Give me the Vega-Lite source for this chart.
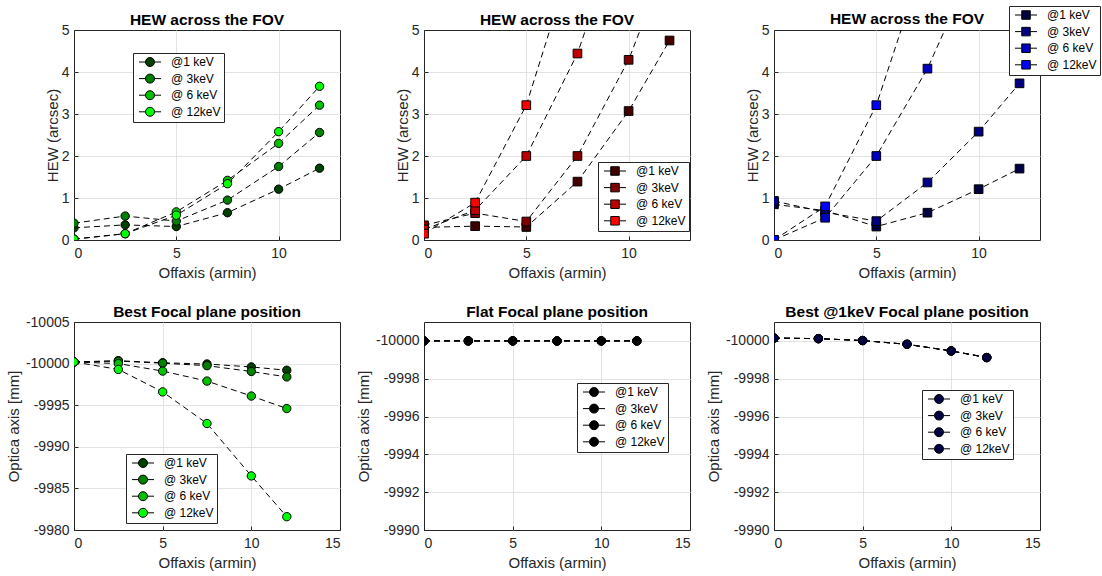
{
  "$schema": "https://vega.github.io/schema/vega-lite/v6.json",
  "padding": {"left": 5, "top": 5, "right": 0, "bottom": 0},
  "background": "white",
  "datasets": {
    "A": [
      {"energy": "@1 keV", "offaxis": 0, "value": 0.29}, {"energy": "@1 keV", "offaxis": 2.5, "value": 0.36}, {"energy": "@1 keV", "offaxis": 5, "value": 0.32}, {"energy": "@1 keV", "offaxis": 7.5, "value": 0.65}, {"energy": "@1 keV", "offaxis": 10, "value": 1.21}, {"energy": "@1 keV", "offaxis": 12, "value": 1.71},
      {"energy": "@ 3keV", "offaxis": 0, "value": 0.40}, {"energy": "@ 3keV", "offaxis": 2.5, "value": 0.57}, {"energy": "@ 3keV", "offaxis": 5, "value": 0.45}, {"energy": "@ 3keV", "offaxis": 7.5, "value": 0.95}, {"energy": "@ 3keV", "offaxis": 10, "value": 1.75}, {"energy": "@ 3keV", "offaxis": 12, "value": 2.56},
      {"energy": "@ 6 keV", "offaxis": 0, "value": 0.02}, {"energy": "@ 6 keV", "offaxis": 2.5, "value": 0.15}, {"energy": "@ 6 keV", "offaxis": 5, "value": 0.67}, {"energy": "@ 6 keV", "offaxis": 7.5, "value": 1.42}, {"energy": "@ 6 keV", "offaxis": 10, "value": 2.30}, {"energy": "@ 6 keV", "offaxis": 12, "value": 3.21},
      {"energy": "@ 12keV", "offaxis": 0, "value": 0.02}, {"energy": "@ 12keV", "offaxis": 2.5, "value": 0.15}, {"energy": "@ 12keV", "offaxis": 5, "value": 0.59}, {"energy": "@ 12keV", "offaxis": 7.5, "value": 1.34}, {"energy": "@ 12keV", "offaxis": 10, "value": 2.58}, {"energy": "@ 12keV", "offaxis": 12, "value": 3.66}
    ],
    "B": [
      {"energy": "@1 keV", "offaxis": 0, "value": 0.30}, {"energy": "@1 keV", "offaxis": 2.5, "value": 0.33}, {"energy": "@1 keV", "offaxis": 5, "value": 0.31}, {"energy": "@1 keV", "offaxis": 7.5, "value": 1.39}, {"energy": "@1 keV", "offaxis": 10, "value": 3.07}, {"energy": "@1 keV", "offaxis": 12, "value": 4.75},
      {"energy": "@ 3keV", "offaxis": 0, "value": 0.35}, {"energy": "@ 3keV", "offaxis": 2.5, "value": 0.64}, {"energy": "@ 3keV", "offaxis": 5, "value": 0.44}, {"energy": "@ 3keV", "offaxis": 7.5, "value": 2.0}, {"energy": "@ 3keV", "offaxis": 10, "value": 4.29}, {"energy": "@ 3keV", "offaxis": 12, "value": 6.8},
      {"energy": "@ 6 keV", "offaxis": 0, "value": 0.25}, {"energy": "@ 6 keV", "offaxis": 2.5, "value": 0.71}, {"energy": "@ 6 keV", "offaxis": 5, "value": 2.0}, {"energy": "@ 6 keV", "offaxis": 7.5, "value": 4.44}, {"energy": "@ 6 keV", "offaxis": 10, "value": 8.0}, {"energy": "@ 6 keV", "offaxis": 12, "value": 11.5},
      {"energy": "@ 12keV", "offaxis": 0, "value": 0.15}, {"energy": "@ 12keV", "offaxis": 2.5, "value": 0.89}, {"energy": "@ 12keV", "offaxis": 5, "value": 3.21}, {"energy": "@ 12keV", "offaxis": 7.5, "value": 7.1}, {"energy": "@ 12keV", "offaxis": 10, "value": 12.5}, {"energy": "@ 12keV", "offaxis": 12, "value": 18.0}
    ],
    "C": [
      {"energy": "@1 keV", "offaxis": 0, "value": 0.85}, {"energy": "@1 keV", "offaxis": 2.5, "value": 0.70}, {"energy": "@1 keV", "offaxis": 5, "value": 0.32}, {"energy": "@1 keV", "offaxis": 7.5, "value": 0.65}, {"energy": "@1 keV", "offaxis": 10, "value": 1.21}, {"energy": "@1 keV", "offaxis": 12, "value": 1.70},
      {"energy": "@ 3keV", "offaxis": 0, "value": 0.93}, {"energy": "@ 3keV", "offaxis": 2.5, "value": 0.66}, {"energy": "@ 3keV", "offaxis": 5, "value": 0.45}, {"energy": "@ 3keV", "offaxis": 7.5, "value": 1.37}, {"energy": "@ 3keV", "offaxis": 10, "value": 2.58}, {"energy": "@ 3keV", "offaxis": 12, "value": 3.73},
      {"energy": "@ 6 keV", "offaxis": 0, "value": 0.0}, {"energy": "@ 6 keV", "offaxis": 2.5, "value": 0.53}, {"energy": "@ 6 keV", "offaxis": 5, "value": 2.0}, {"energy": "@ 6 keV", "offaxis": 7.5, "value": 4.08}, {"energy": "@ 6 keV", "offaxis": 10, "value": 6.8}, {"energy": "@ 6 keV", "offaxis": 12, "value": 9.5},
      {"energy": "@ 12keV", "offaxis": 0, "value": 0.0}, {"energy": "@ 12keV", "offaxis": 2.5, "value": 0.80}, {"energy": "@ 12keV", "offaxis": 5, "value": 3.21}, {"energy": "@ 12keV", "offaxis": 7.5, "value": 6.9}, {"energy": "@ 12keV", "offaxis": 10, "value": 12.0}, {"energy": "@ 12keV", "offaxis": 12, "value": 17.0}
    ],
    "D": [
      {"energy": "@1 keV", "offaxis": 0, "value": -10000.2}, {"energy": "@1 keV", "offaxis": 2.5, "value": -10000.35}, {"energy": "@1 keV", "offaxis": 5, "value": -10000.1}, {"energy": "@1 keV", "offaxis": 7.5, "value": -9999.95}, {"energy": "@1 keV", "offaxis": 10, "value": -9999.6}, {"energy": "@1 keV", "offaxis": 12, "value": -9999.2},
      {"energy": "@ 3keV", "offaxis": 0, "value": -10000.2}, {"energy": "@ 3keV", "offaxis": 2.5, "value": -10000.3}, {"energy": "@ 3keV", "offaxis": 5, "value": -10000.05}, {"energy": "@ 3keV", "offaxis": 7.5, "value": -9999.75}, {"energy": "@ 3keV", "offaxis": 10, "value": -9999.05}, {"energy": "@ 3keV", "offaxis": 12, "value": -9998.4},
      {"energy": "@ 6 keV", "offaxis": 0, "value": -10000.2}, {"energy": "@ 6 keV", "offaxis": 2.5, "value": -10000.0}, {"energy": "@ 6 keV", "offaxis": 5, "value": -9999.1}, {"energy": "@ 6 keV", "offaxis": 7.5, "value": -9997.9}, {"energy": "@ 6 keV", "offaxis": 10, "value": -9996.1}, {"energy": "@ 6 keV", "offaxis": 12, "value": -9994.6},
      {"energy": "@ 12keV", "offaxis": 0, "value": -10000.2}, {"energy": "@ 12keV", "offaxis": 2.5, "value": -9999.3}, {"energy": "@ 12keV", "offaxis": 5, "value": -9996.6}, {"energy": "@ 12keV", "offaxis": 7.5, "value": -9992.8}, {"energy": "@ 12keV", "offaxis": 10, "value": -9986.5}, {"energy": "@ 12keV", "offaxis": 12, "value": -9981.6}
    ],
    "E": [
      {"energy": "@1 keV", "offaxis": 0, "value": -10000}, {"energy": "@1 keV", "offaxis": 2.5, "value": -10000}, {"energy": "@1 keV", "offaxis": 5, "value": -10000}, {"energy": "@1 keV", "offaxis": 7.5, "value": -10000}, {"energy": "@1 keV", "offaxis": 10, "value": -10000}, {"energy": "@1 keV", "offaxis": 12, "value": -10000},
      {"energy": "@ 3keV", "offaxis": 0, "value": -10000}, {"energy": "@ 3keV", "offaxis": 2.5, "value": -10000}, {"energy": "@ 3keV", "offaxis": 5, "value": -10000}, {"energy": "@ 3keV", "offaxis": 7.5, "value": -10000}, {"energy": "@ 3keV", "offaxis": 10, "value": -10000}, {"energy": "@ 3keV", "offaxis": 12, "value": -10000},
      {"energy": "@ 6 keV", "offaxis": 0, "value": -10000}, {"energy": "@ 6 keV", "offaxis": 2.5, "value": -10000}, {"energy": "@ 6 keV", "offaxis": 5, "value": -10000}, {"energy": "@ 6 keV", "offaxis": 7.5, "value": -10000}, {"energy": "@ 6 keV", "offaxis": 10, "value": -10000}, {"energy": "@ 6 keV", "offaxis": 12, "value": -10000},
      {"energy": "@ 12keV", "offaxis": 0, "value": -10000}, {"energy": "@ 12keV", "offaxis": 2.5, "value": -10000}, {"energy": "@ 12keV", "offaxis": 5, "value": -10000}, {"energy": "@ 12keV", "offaxis": 7.5, "value": -10000}, {"energy": "@ 12keV", "offaxis": 10, "value": -10000}, {"energy": "@ 12keV", "offaxis": 12, "value": -10000}
    ],
    "F": [
      {"energy": "@1 keV", "offaxis": 0, "value": -10000.15}, {"energy": "@1 keV", "offaxis": 2.5, "value": -10000.12}, {"energy": "@1 keV", "offaxis": 5, "value": -10000.02}, {"energy": "@1 keV", "offaxis": 7.5, "value": -9999.82}, {"energy": "@1 keV", "offaxis": 10, "value": -9999.47}, {"energy": "@1 keV", "offaxis": 12, "value": -9999.12},
      {"energy": "@ 3keV", "offaxis": 0, "value": -10000.15}, {"energy": "@ 3keV", "offaxis": 2.5, "value": -10000.12}, {"energy": "@ 3keV", "offaxis": 5, "value": -10000.02}, {"energy": "@ 3keV", "offaxis": 7.5, "value": -9999.82}, {"energy": "@ 3keV", "offaxis": 10, "value": -9999.47}, {"energy": "@ 3keV", "offaxis": 12, "value": -9999.12},
      {"energy": "@ 6 keV", "offaxis": 0, "value": -10000.15}, {"energy": "@ 6 keV", "offaxis": 2.5, "value": -10000.12}, {"energy": "@ 6 keV", "offaxis": 5, "value": -10000.02}, {"energy": "@ 6 keV", "offaxis": 7.5, "value": -9999.82}, {"energy": "@ 6 keV", "offaxis": 10, "value": -9999.47}, {"energy": "@ 6 keV", "offaxis": 12, "value": -9999.12},
      {"energy": "@ 12keV", "offaxis": 0, "value": -10000.15}, {"energy": "@ 12keV", "offaxis": 2.5, "value": -10000.12}, {"energy": "@ 12keV", "offaxis": 5, "value": -10000.02}, {"energy": "@ 12keV", "offaxis": 7.5, "value": -9999.82}, {"energy": "@ 12keV", "offaxis": 10, "value": -9999.47}, {"energy": "@ 12keV", "offaxis": 12, "value": -9999.12}
    ]
  },
  "columns": 3,
  "bounds": "flush",
  "spacing": {"column": 84, "row": 82},
  "resolve": {"scale": {"x": "independent", "y": "independent", "color": "independent"}, "legend": {"color": "independent"}, "axis": {"x": "independent", "y": "independent"}},
  "concat": [
    {
      "width": 266, "height": 210,
      "title": {"text": "HEW across the FOV", "offset": -5},
      "data": {"name": "A"},
      "encoding": {
        "x": {"field": "offaxis", "type": "quantitative", "scale": {"domain": [0, 13], "nice": false, "zero": false}, "axis": {"values": [0, 5, 10], "title": "Offaxis (armin)", "gridOpacity": {"condition": {"test": "datum.value == 0", "value": 0}, "value": 1}}},
        "y": {"field": "value", "type": "quantitative", "scale": {"domain": [0, 5], "nice": false}, "axis": {"values": [0, 1, 2, 3, 4, 5], "title": "HEW (arcsec)", "titlePadding": 1, "gridOpacity": {"condition": {"test": "datum.value == 0 || datum.value == 5", "value": 0}, "value": 1}}}
      },
      "layer": [
        {"mark": {"type": "line", "color": "black", "strokeWidth": 1, "strokeDash": [6, 4], "clip": true}, "encoding": {"detail": {"field": "energy"}}},
        {"mark": {"type": "point", "shape": "circle", "filled": true, "size": 70, "opacity": 1, "stroke": "black", "strokeWidth": 1, "clip": true},
         "encoding": {"color": {"field": "energy", "type": "nominal", "scale": {"domain": ["@1 keV", "@ 3keV", "@ 6 keV", "@ 12keV"], "range": ["#004000", "#008000", "#00c000", "#00ff00"]},
           "legend": {"title": null, "legendX": 59, "legendY": 23, "symbolType": "M-2.2,0H-0.9M0.9,0H2.2M0.9,0A0.9,0.9,0,1,1,-0.9,0A0.9,0.9,0,1,1,0.9,0Z"}}}}
      ]
    },
    {
      "width": 266, "height": 210,
      "title": {"text": "HEW across the FOV", "offset": -5},
      "data": {"name": "B"},
      "encoding": {
        "x": {"field": "offaxis", "type": "quantitative", "scale": {"domain": [0, 13], "nice": false, "zero": false}, "axis": {"values": [0, 5, 10], "title": "Offaxis (armin)", "gridOpacity": {"condition": {"test": "datum.value == 0", "value": 0}, "value": 1}}},
        "y": {"field": "value", "type": "quantitative", "scale": {"domain": [0, 5], "nice": false}, "axis": {"values": [0, 1, 2, 3, 4, 5], "title": "HEW (arcsec)", "titlePadding": 1, "gridOpacity": {"condition": {"test": "datum.value == 0 || datum.value == 5", "value": 0}, "value": 1}}}
      },
      "layer": [
        {"mark": {"type": "line", "color": "black", "strokeWidth": 1, "strokeDash": [6, 4], "clip": true}, "encoding": {"detail": {"field": "energy"}}},
        {"mark": {"type": "point", "shape": "square", "filled": true, "size": 75, "opacity": 1, "stroke": "black", "strokeWidth": 1, "clip": true},
         "encoding": {"color": {"field": "energy", "type": "nominal", "scale": {"domain": ["@1 keV", "@ 3keV", "@ 6 keV", "@ 12keV"], "range": ["#400000", "#800000", "#c00000", "#ff0000"]},
           "legend": {"title": null, "legendX": 174, "legendY": 132, "symbolType": "M-2.2,0H-0.85M0.85,0H2.2M-0.85,-0.85H0.85V0.85H-0.85Z"}}}}
      ]
    },
    {
      "width": 266, "height": 210,
      "title": {"text": "HEW across the FOV", "offset": -22},
      "data": {"name": "C"},
      "encoding": {
        "x": {"field": "offaxis", "type": "quantitative", "scale": {"domain": [0, 13], "nice": false, "zero": false}, "axis": {"values": [0, 5, 10], "title": "Offaxis (armin)", "gridOpacity": {"condition": {"test": "datum.value == 0", "value": 0}, "value": 1}}},
        "y": {"field": "value", "type": "quantitative", "scale": {"domain": [0, 5], "nice": false}, "axis": {"values": [0, 1, 2, 3, 4, 5], "title": "HEW (arcsec)", "titlePadding": 1, "gridOpacity": {"condition": {"test": "datum.value == 0 || datum.value == 5", "value": 0}, "value": 1}}}
      },
      "layer": [
        {"mark": {"type": "line", "color": "black", "strokeWidth": 1, "strokeDash": [6, 4], "clip": true}, "encoding": {"detail": {"field": "energy"}}},
        {"mark": {"type": "point", "shape": "square", "filled": true, "size": 75, "opacity": 1, "stroke": "black", "strokeWidth": 1, "clip": true},
         "encoding": {"color": {"field": "energy", "type": "nominal", "scale": {"domain": ["@1 keV", "@ 3keV", "@ 6 keV", "@ 12keV"], "range": ["#000040", "#000080", "#0000c0", "#0000ff"]},
           "legend": {"title": null, "legendX": 235, "legendY": -24, "symbolType": "M-2.2,0H-0.85M0.85,0H2.2M-0.85,-0.85H0.85V0.85H-0.85Z"}}}}
      ]
    },
    {
      "width": 266, "height": 208,
      "title": {"text": "Best Focal plane position", "offset": -5},
      "data": {"name": "D"},
      "encoding": {
        "x": {"field": "offaxis", "type": "quantitative", "scale": {"domain": [0, 15], "nice": false, "zero": false}, "axis": {"values": [0, 5, 10, 15], "title": "Offaxis (armin)", "gridOpacity": {"condition": {"test": "datum.value == 0 || datum.value == 15", "value": 0}, "value": 1}}},
        "y": {"field": "value", "type": "quantitative", "scale": {"domain": [-10005, -9980], "nice": false, "zero": false, "reverse": true}, "axis": {"values": [-10005, -10000, -9995, -9990, -9985, -9980], "labelExpr": "datum.value + ''", "title": "Optica axis [mm]", "gridOpacity": {"condition": {"test": "datum.value == -10005 || datum.value == -9980", "value": 0}, "value": 1}}}
      },
      "layer": [
        {"mark": {"type": "line", "color": "black", "strokeWidth": 1, "strokeDash": [6, 4], "clip": true}, "encoding": {"detail": {"field": "energy"}}},
        {"mark": {"type": "point", "shape": "circle", "filled": true, "size": 70, "opacity": 1, "stroke": "black", "strokeWidth": 1, "clip": true},
         "encoding": {"color": {"field": "energy", "type": "nominal", "scale": {"domain": ["@1 keV", "@ 3keV", "@ 6 keV", "@ 12keV"], "range": ["#004000", "#008000", "#00c000", "#00ff00"]},
           "legend": {"title": null, "legendX": 52, "legendY": 132, "symbolType": "M-2.2,0H-0.9M0.9,0H2.2M0.9,0A0.9,0.9,0,1,1,-0.9,0A0.9,0.9,0,1,1,0.9,0Z"}}}}
      ]
    },
    {
      "width": 266, "height": 208,
      "title": {"text": "Flat Focal plane position", "offset": 2},
      "data": {"name": "E"},
      "encoding": {
        "x": {"field": "offaxis", "type": "quantitative", "scale": {"domain": [0, 15], "nice": false, "zero": false}, "axis": {"values": [0, 5, 10, 15], "title": "Offaxis (armin)", "gridOpacity": {"condition": {"test": "datum.value == 0 || datum.value == 15", "value": 0}, "value": 1}}},
        "y": {"field": "value", "type": "quantitative", "scale": {"domain": [-10001, -9990], "nice": false, "zero": false, "reverse": true}, "axis": {"values": [-10000, -9998, -9996, -9994, -9992, -9990], "labelExpr": "datum.value + ''", "title": "Optica axis [mm]", "gridOpacity": {"condition": {"test": "datum.value == -9990", "value": 0}, "value": 1}}}
      },
      "layer": [
        {"mark": {"type": "line", "color": "black", "strokeWidth": 1, "strokeDash": [6, 4], "clip": true}, "encoding": {"detail": {"field": "energy"}}},
        {"mark": {"type": "point", "shape": "circle", "filled": true, "size": 70, "opacity": 1, "stroke": "black", "strokeWidth": 1, "clip": true},
         "encoding": {"color": {"field": "energy", "type": "nominal", "scale": {"domain": ["@1 keV", "@ 3keV", "@ 6 keV", "@ 12keV"], "range": ["#000000", "#000000", "#000000", "#000000"]},
           "legend": {"title": null, "legendX": 153, "legendY": 61, "symbolType": "M-2.2,0H-0.9M0.9,0H2.2M0.9,0A0.9,0.9,0,1,1,-0.9,0A0.9,0.9,0,1,1,0.9,0Z"}}}}
      ]
    },
    {
      "width": 266, "height": 208,
      "title": {"text": "Best @1keV Focal plane position", "offset": 2},
      "data": {"name": "F"},
      "encoding": {
        "x": {"field": "offaxis", "type": "quantitative", "scale": {"domain": [0, 15], "nice": false, "zero": false}, "axis": {"values": [0, 5, 10, 15], "title": "Offaxis (armin)", "gridOpacity": {"condition": {"test": "datum.value == 0 || datum.value == 15", "value": 0}, "value": 1}}},
        "y": {"field": "value", "type": "quantitative", "scale": {"domain": [-10001, -9990], "nice": false, "zero": false, "reverse": true}, "axis": {"values": [-10000, -9998, -9996, -9994, -9992, -9990], "labelExpr": "datum.value + ''", "title": "Optica axis [mm]", "gridOpacity": {"condition": {"test": "datum.value == -9990", "value": 0}, "value": 1}}}
      },
      "layer": [
        {"mark": {"type": "line", "color": "black", "strokeWidth": 1, "strokeDash": [6, 4], "clip": true}, "encoding": {"detail": {"field": "energy"}}},
        {"mark": {"type": "point", "shape": "circle", "filled": true, "size": 70, "opacity": 1, "stroke": "black", "strokeWidth": 1, "clip": true},
         "encoding": {"color": {"field": "energy", "type": "nominal", "scale": {"domain": ["@1 keV", "@ 3keV", "@ 6 keV", "@ 12keV"], "range": ["#000040", "#000040", "#000040", "#000040"]},
           "legend": {"title": null, "legendX": 148, "legendY": 68, "symbolType": "M-2.2,0H-0.9M0.9,0H2.2M0.9,0A0.9,0.9,0,1,1,-0.9,0A0.9,0.9,0,1,1,0.9,0Z"}}}}
      ]
    }
  ],
  "config": {
    "font": "Liberation Sans",
    "view": {"stroke": "#262626", "strokeWidth": 1},
    "title": {"font": "Liberation Sans", "fontSize": 15.5, "fontWeight": "bold", "color": "#000000", "anchor": "middle"},
    "axis": {
      "labelFont": "Liberation Sans", "labelFontSize": 14, "labelColor": "#262626",
      "titleFont": "Liberation Sans", "titleFontSize": 15, "titleFontWeight": "normal", "titleColor": "#262626",
      "gridColor": "#e3e3e3", "gridWidth": 1, "domain": false,
      "tickColor": "#262626", "tickSize": -4
    },
    "axisX": {"labelPadding": 10, "titlePadding": 5},
    "axisY": {"labelPadding": 9, "titlePadding": 4},
    "legend": {
      "orient": "none", "strokeColor": "#262626", "fillColor": "white", "padding": 3,
      "labelFont": "Liberation Sans", "labelFontSize": 12, "labelColor": "#000000",
      "symbolSize": 100, "symbolOffset": 8, "symbolStrokeColor": "black", "symbolStrokeWidth": 1, "labelOffset": 15, "rowPadding": 2.6
    }
  }
}
